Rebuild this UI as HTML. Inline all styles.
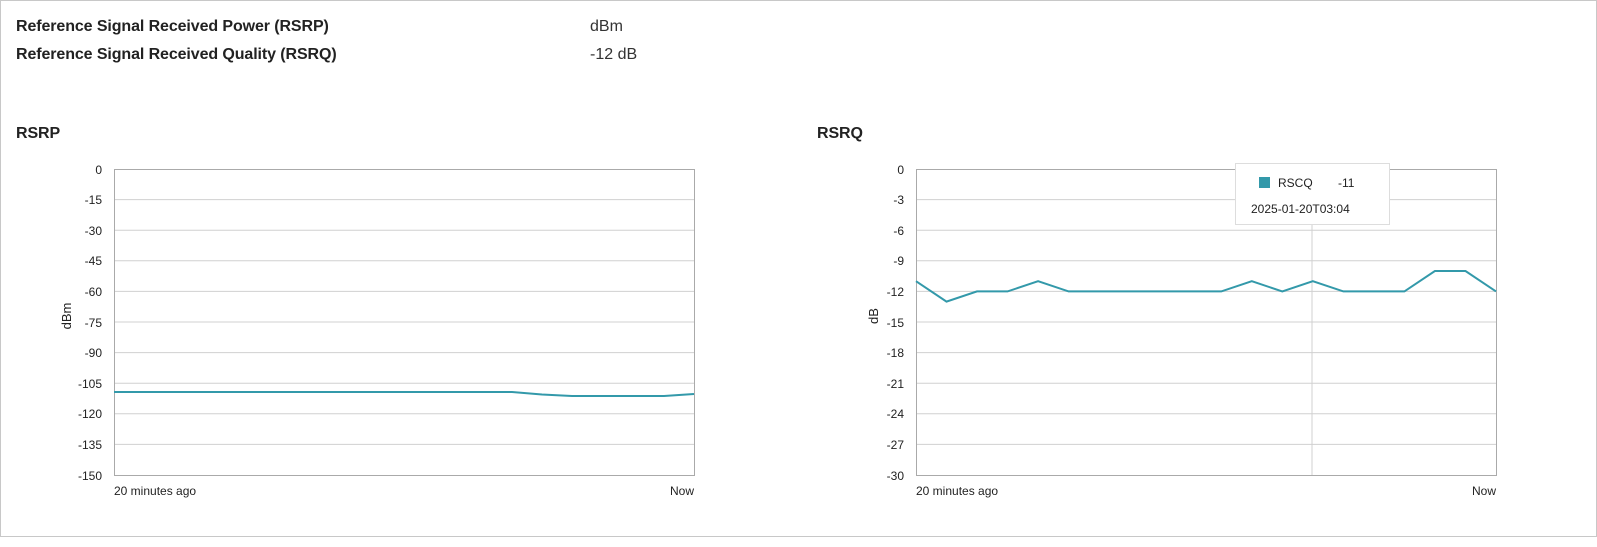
<!DOCTYPE html>
<html><head><style>
body{margin:0;width:1597px;height:547px;background:#fff;font-family:"Liberation Sans",sans-serif;overflow:hidden}
.frame{position:absolute;left:0;top:0;width:1595px;height:535px;border:1px solid #c8c8c8}
.t{position:absolute;font-size:16px;color:#222;font-weight:bold;letter-spacing:-0.1px}
.v{position:absolute;font-size:16px;color:#333}
svg text{font-family:"Liberation Sans",sans-serif;font-size:12px;fill:#222}
</style></head><body>
<div class="frame"></div>
<div class="t" style="left:16px;top:18px">Reference Signal Received Power (RSRP)</div>
<div class="t" style="left:16px;top:46px">Reference Signal Received Quality (RSRQ)</div>
<div class="v" style="left:590px;top:18px">dBm</div>
<div class="v" style="left:590px;top:46px">-12 dB</div>
<div class="t" style="left:16px;top:125px">RSRP</div>
<div class="t" style="left:817px;top:125px">RSRQ</div>
<svg width="1597" height="547" style="position:absolute;left:0;top:0">
<g stroke="#d0d0d0" stroke-width="1">
<line x1="114" y1="199.6" x2="694" y2="199.6"/><line x1="114" y1="230.2" x2="694" y2="230.2"/><line x1="114" y1="260.8" x2="694" y2="260.8"/><line x1="114" y1="291.4" x2="694" y2="291.4"/><line x1="114" y1="322" x2="694" y2="322"/><line x1="114" y1="352.6" x2="694" y2="352.6"/><line x1="114" y1="383.2" x2="694" y2="383.2"/><line x1="114" y1="413.8" x2="694" y2="413.8"/><line x1="114" y1="444.4" x2="694" y2="444.4"/>
<line x1="916" y1="199.6" x2="1496" y2="199.6"/><line x1="916" y1="230.2" x2="1496" y2="230.2"/><line x1="916" y1="260.8" x2="1496" y2="260.8"/><line x1="916" y1="291.4" x2="1496" y2="291.4"/><line x1="916" y1="322" x2="1496" y2="322"/><line x1="916" y1="352.6" x2="1496" y2="352.6"/><line x1="916" y1="383.2" x2="1496" y2="383.2"/><line x1="916" y1="413.8" x2="1496" y2="413.8"/><line x1="916" y1="444.4" x2="1496" y2="444.4"/>
<line x1="1312" y1="169" x2="1312" y2="475"/>
</g>
<rect x="114.5" y="169.5" width="580" height="306" fill="none" stroke="#aaa"/>
<rect x="916.5" y="169.5" width="580" height="306" fill="none" stroke="#aaa"/>
<g text-anchor="end">
<text x="102" y="174">0</text><text x="102" y="204">-15</text><text x="102" y="235">-30</text><text x="102" y="265">-45</text><text x="102" y="296">-60</text><text x="102" y="327">-75</text><text x="102" y="357">-90</text><text x="102" y="388">-105</text><text x="102" y="418">-120</text><text x="102" y="449">-135</text><text x="102" y="480">-150</text>
<text x="904" y="174">0</text><text x="904" y="204">-3</text><text x="904" y="235">-6</text><text x="904" y="265">-9</text><text x="904" y="296">-12</text><text x="904" y="327">-15</text><text x="904" y="357">-18</text><text x="904" y="388">-21</text><text x="904" y="418">-24</text><text x="904" y="449">-27</text><text x="904" y="480">-30</text>
</g>
<text x="114" y="495">20 minutes ago</text><text x="694" y="495" text-anchor="end">Now</text>
<text x="916" y="495">20 minutes ago</text><text x="1496" y="495" text-anchor="end">Now</text>
<text transform="translate(71,316) rotate(-90)" text-anchor="middle" style="font-size:13px">dBm</text>
<text transform="translate(878,316) rotate(-90)" text-anchor="middle" style="font-size:13px">dB</text>
<polyline fill="none" stroke="#3399aa" stroke-width="2" points="114,392 512,392 542,394.5 572,396 664,396 694,394"/>
<polyline fill="none" stroke="#3399aa" stroke-width="2" points="916,281.2 946.5,301.6 977,291.4 1007.6,291.4 1038.1,281.2 1068.6,291.4 1099.2,291.4 1129.7,291.4 1160.2,291.4 1190.7,291.4 1221.3,291.4 1251.8,281.2 1282.3,291.4 1312.8,281.2 1343.4,291.4 1373.9,291.4 1404.4,291.4 1434.9,271 1465.5,271 1496,291.4"/>
<rect x="1235.5" y="163.5" width="154" height="61" fill="#fff" stroke="#ddd"/>
<rect x="1259" y="177" width="11" height="11" fill="#3399aa"/>
<text x="1278" y="187" style="font-size:12px">RSCQ</text>
<text x="1338" y="187" style="font-size:12px">-11</text>
<text x="1251" y="213" style="font-size:12px">2025-01-20T03:04</text>
</svg>
</body></html>
